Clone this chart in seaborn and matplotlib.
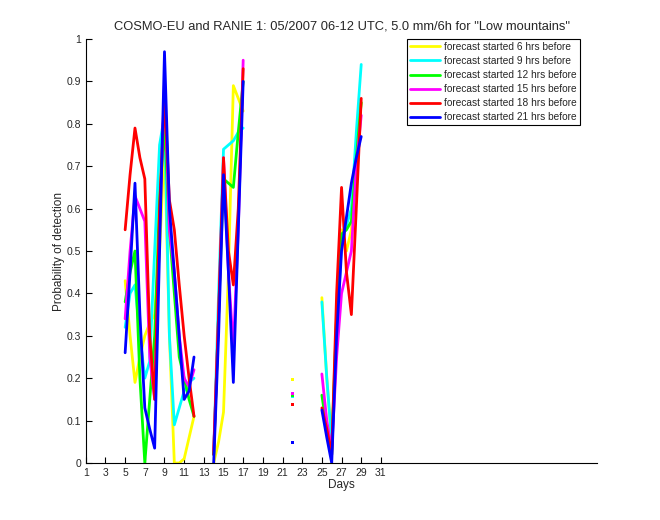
import numpy as np
import pandas as pd
import matplotlib
matplotlib.use('Agg')
import matplotlib.pyplot as plt
import seaborn as sns

# days of the month, split in separate runs (gaps = no data)
days_a = [5, 5.5, 6, 6.5, 7, 7.5, 8, 8.5, 9, 9.5, 10, 10.5, 11, 11.5, 12]
days_b = [14, 14.5, 15, 15.5, 16, 16.5, 17]
days_c = [22]
days_d = [25, 25.5, 26, 26.5, 27, 27.5, 28, 28.5, 29]

labels = ['forecast started 6 hrs before', 'forecast started 9 hrs before',
          'forecast started 12 hrs before', 'forecast started 15 hrs before',
          'forecast started 18 hrs before', 'forecast started 21 hrs before']
colors = ['#ffff00', '#00ffff', '#00ff00', '#ff00ff', '#ff0000', '#0000ff']

# probability of detection per lead time, one list per run
pod_6h = [[0.43, 0.30, 0.19, 0.25, 0.30, 0.33, 0.35, 0.50, 0.75, 0.30, 0.00, 0.00, 0.01, 0.06, 0.11],
          [0.00, 0.05, 0.12, 0.45, 0.89, 0.86, 0.83],
          [0.196],
          [0.39, 0.20, 0.05, 0.35, 0.55, 0.50, 0.55, 0.75, 0.85]]
pod_9h = [[0.32, 0.40, 0.42, 0.30, 0.20, 0.24, 0.50, 0.75, 0.82, 0.30, 0.09, 0.13, 0.17, 0.19, 0.20],
          [0.02, 0.40, 0.74, 0.75, 0.76, 0.78, 0.79],
          [0.156],
          [0.38, 0.20, 0.05, 0.30, 0.52, 0.56, 0.60, 0.78, 0.94]]
pod_12h = [[0.38, 0.45, 0.50, 0.20, 0.00, 0.15, 0.30, 0.62, 0.80, 0.55, 0.40, 0.25, 0.20, 0.15, 0.11],
           [0.02, 0.35, 0.67, 0.66, 0.65, 0.78, 0.90],
           [0.160],
           [0.16, 0.08, 0.02, 0.35, 0.54, 0.55, 0.57, 0.72, 0.85]]
pod_15h = [[0.34, 0.50, 0.63, 0.60, 0.57, 0.25, 0.15, 0.55, 0.90, 0.55, 0.45, 0.30, 0.20, 0.18, 0.22],
           [0.03, 0.35, 0.72, 0.45, 0.27, 0.55, 0.95],
           [0.163],
           [0.21, 0.10, 0.03, 0.25, 0.40, 0.45, 0.50, 0.70, 0.82]]
pod_18h = [[0.55, 0.68, 0.79, 0.72, 0.67, 0.30, 0.15, 0.60, 0.87, 0.62, 0.55, 0.42, 0.30, 0.20, 0.11],
           [0.02, 0.35, 0.72, 0.50, 0.42, 0.60, 0.93],
           [0.137],
           [0.13, 0.08, 0.02, 0.40, 0.65, 0.45, 0.35, 0.60, 0.86]]
pod_21h = [[0.26, 0.45, 0.66, 0.35, 0.13, 0.08, 0.035, 0.50, 0.97, 0.60, 0.45, 0.30, 0.15, 0.17, 0.25],
           [0.00, 0.30, 0.68, 0.45, 0.19, 0.55, 0.90],
           [0.048],
           [0.125, 0.06, 0.00, 0.30, 0.50, 0.58, 0.66, 0.72, 0.77]]

runs = [days_a, days_b, days_c, days_d]
series = [pod_6h, pod_9h, pod_12h, pod_15h, pod_18h, pod_21h]

rows = []
for lab, ser in zip(labels, series):
    for k, (d, v) in enumerate(zip(runs, ser)):
        for dd, vv in zip(d, v):
            rows.append((lab, k, dd, vv))
df = pd.DataFrame(rows, columns=['lead', 'run', 'day', 'pod'])

sns.set_style('ticks')
plt.rcParams['font.family'] = ['Liberation Sans', 'DejaVu Sans']
plt.rcParams['xtick.direction'] = 'in'
plt.rcParams['ytick.direction'] = 'in'

fig = plt.figure(figsize=(6.6, 5.2), dpi=100)
ax = fig.add_axes([0.130, 0.1096, 0.775, 0.8154])

palette = dict(zip(labels, colors))
sns.lineplot(data=df, x='day', y='pod', hue='lead', units='run', estimator=None,
             palette=palette, hue_order=labels, linewidth=2, ax=ax, legend=False)

# single days (no neighbours) only show as short marks
single = df[df['run'] == 2]
sns.scatterplot(data=single, x='day', y='pod', hue='lead', palette=palette,
                hue_order=labels, marker='s', s=5, linewidth=0, ax=ax, legend=False)

ax.set_xlim(1, 53)
ax.set_ylim(0, 1)
ax.set_xticks(list(range(1, 32, 2)))
ax.set_yticks([0, 0.1, 0.2, 0.3, 0.4, 0.5, 0.6, 0.7, 0.8, 0.9, 1])
ax.set_yticklabels(['0', '0.1', '0.2', '0.3', '0.4', '0.5', '0.6', '0.7', '0.8', '0.9', '1'])
ax.tick_params(labelsize=7.5, length=4, width=0.8, color='black')
sns.despine(ax=ax)
for s in ['left', 'bottom']:
    ax.spines[s].set_color('black')
    ax.spines[s].set_linewidth(0.8)

ax.set_xlabel('Days', fontsize=8.5, labelpad=1)
ax.set_ylabel('Probability of detection', fontsize=8.5, labelpad=1)
ax.set_title('COSMO-EU and RANIE 1: 05/2007 06-12 UTC, 5.0 mm/6h for "Low mountains"',
             fontsize=9.3, pad=7)

handles = [plt.Line2D([], [], color=c, linewidth=2) for c in colors]
leg = ax.legend(handles, labels, loc='upper right', bbox_to_anchor=(0.97, 1.005),
                fontsize=7.3, frameon=True, fancybox=False, framealpha=1,
                edgecolor='black', handlelength=3.0, handletextpad=0.4,
                labelspacing=0.4, borderpad=0.3, borderaxespad=0.2)
leg.get_frame().set_linewidth(0.8)

fig.savefig('out.png', dpi=100)
